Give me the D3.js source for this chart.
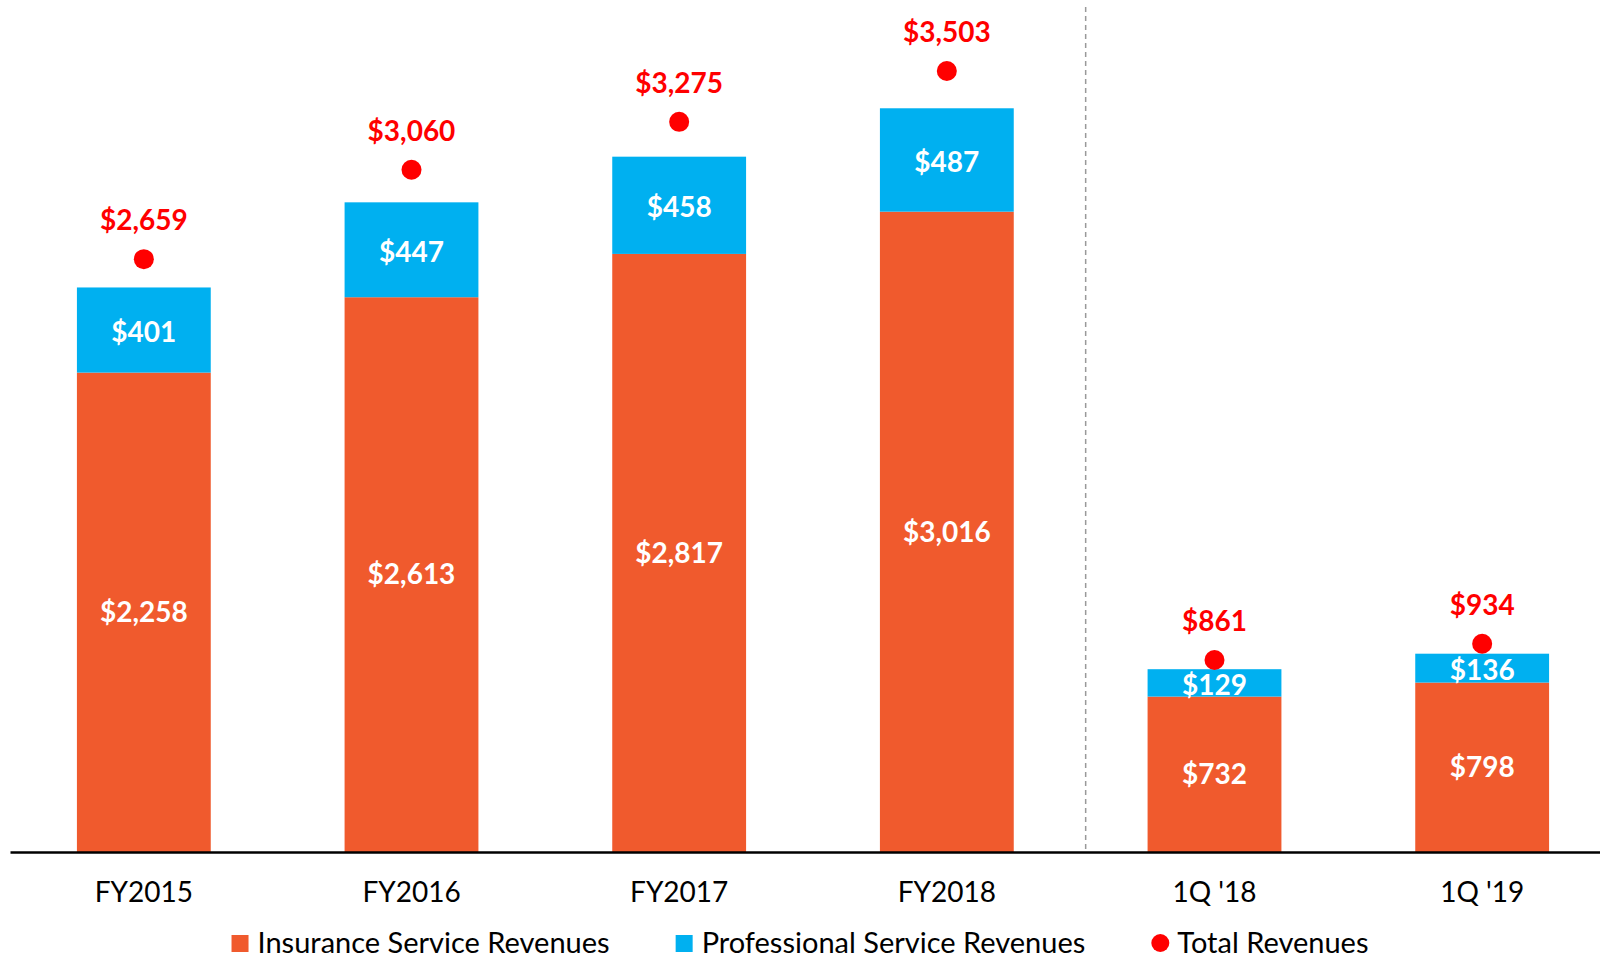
<!DOCTYPE html>
<html>
<head>
<meta charset="utf-8">
<script src="https://cdn.jsdelivr.net/npm/d3@7"></script>
<style>
  body { margin: 0; background: #fff; }
  text { font-family: Lato, "Open Sans", sans-serif; }
</style>
</head>
<body>
<svg width="1600" height="960"></svg>
<script>
// chart data
var categories = ["FY2015", "FY2016", "FY2017", "FY2018", "1Q '18", "1Q '19"];
var insurance = [2258, 2613, 2817, 3016, 732, 798];
var professional = [401, 447, 458, 487, 129, 136];
var totals = [2659, 3060, 3275, 3503, 861, 934];
var seriesNames = ["Insurance Service Revenues", "Professional Service Revenues", "Total Revenues"];

var colors = {ins: "#F05A2D", pro: "#00B0F0", tot: "#FF0000"};

var svg = d3.select("svg"),
    top0 = 7,
    base = 852;

// scales: bars on primary axis, total dots on a slightly different secondary axis
var x = d3.scaleBand()
    .domain(categories)
    .range([10, 1616])
    .paddingInner(0.5)
    .paddingOuter(0.25);

var y = d3.scaleLinear().domain([0, 3980]).range([base, top0]);
var y2 = d3.scaleLinear().domain([0, 3790]).range([base, top0]);

var fmt = function (d) { return "$" + d3.format(",")(d); };

var rows = categories.map(function (c, i) {
    return {cat: c, ins: insurance[i], pro: professional[i], tot: totals[i]};
});

// divider between years and quarters
var divX = (x("FY2018") + x.bandwidth() + x("1Q '18")) / 2 + 5;
svg.append("line")
    .attr("x1", divX).attr("x2", divX)
    .attr("y1", top0).attr("y2", base)
    .attr("stroke", "#999")
    .attr("stroke-width", 1.5)
    .attr("stroke-dasharray", "5,4");

var g = svg.selectAll(".bar").data(rows).enter().append("g").attr("class", "bar");

// insurance segment
g.append("rect")
    .attr("x", function (d) { return x(d.cat); })
    .attr("width", x.bandwidth())
    .attr("y", function (d) { return y(d.ins); })
    .attr("height", function (d) { return base - y(d.ins); })
    .attr("fill", colors.ins);

// professional segment
g.append("rect")
    .attr("x", function (d) { return x(d.cat); })
    .attr("width", x.bandwidth())
    .attr("y", function (d) { return y(d.ins + d.pro); })
    .attr("height", function (d) { return y(d.ins) - y(d.ins + d.pro); })
    .attr("fill", colors.pro);

// white labels
g.append("text")
    .attr("x", function (d) { return x(d.cat) + x.bandwidth() / 2; })
    .attr("y", function (d) { return (base + y(d.ins)) / 2; })
    .attr("dy", "0.35em")
    .attr("text-anchor", "middle")
    .attr("fill", "#fff")
    .attr("font-weight", "bold")
    .attr("font-size", 28)
    .text(function (d) { return fmt(d.ins); });

g.append("text")
    .attr("x", function (d) { return x(d.cat) + x.bandwidth() / 2; })
    .attr("y", function (d) { return (y(d.ins) + y(d.ins + d.pro)) / 2 + 2; })
    .attr("dy", "0.35em")
    .attr("text-anchor", "middle")
    .attr("fill", "#fff")
    .attr("font-weight", "bold")
    .attr("font-size", 28)
    .text(function (d) { return fmt(d.pro); });

// total dots and labels
g.append("circle")
    .attr("cx", function (d) { return x(d.cat) + x.bandwidth() / 2; })
    .attr("cy", function (d) { return y2(d.tot); })
    .attr("r", 10)
    .attr("fill", colors.tot);

g.append("text")
    .attr("x", function (d) { return x(d.cat) + x.bandwidth() / 2; })
    .attr("y", function (d) { return y2(d.tot) - 39; })
    .attr("dy", "0.35em")
    .attr("text-anchor", "middle")
    .attr("fill", colors.tot)
    .attr("font-weight", "bold")
    .attr("font-size", 28)
    .text(function (d) { return fmt(d.tot); });

// x axis
var xAxis = svg.append("g")
    .attr("transform", "translate(0," + base + ")")
    .call(d3.axisBottom(x).tickSize(0).tickPadding(30));
xAxis.select(".domain").attr("stroke", "#000").attr("stroke-width", 2.5);
xAxis.selectAll("text")
    .attr("font-size", 28)
    .attr("font-family", "Lato, sans-serif")
    .attr("fill", "#000");

// legend
var legend = svg.append("g");
var lx = 0;
var symbols = ["rect", "rect", "circle"];
var legendColors = [colors.ins, colors.pro, colors.tot];
seriesNames.forEach(function (name, i) {
    var item = legend.append("g").attr("transform", "translate(" + lx + ",0)");
    if (symbols[i] === "rect") {
        item.append("rect").attr("x", 0).attr("y", -8).attr("width", 17).attr("height", 17)
            .attr("fill", legendColors[i]);
    } else {
        item.append("circle").attr("cx", 9).attr("cy", 0).attr("r", 9).attr("fill", legendColors[i]);
    }
    var t = item.append("text")
        .attr("x", 26)
        .attr("dy", "0.35em")
        .attr("font-size", 29)
        .attr("fill", "#000")
        .text(name);
    lx += 26 + t.node().getComputedTextLength() + 66;
});
var lw = lx - 66;
legend.attr("transform", "translate(" + (800 - lw / 2) + ",943)");
</script>
</body>
</html>
